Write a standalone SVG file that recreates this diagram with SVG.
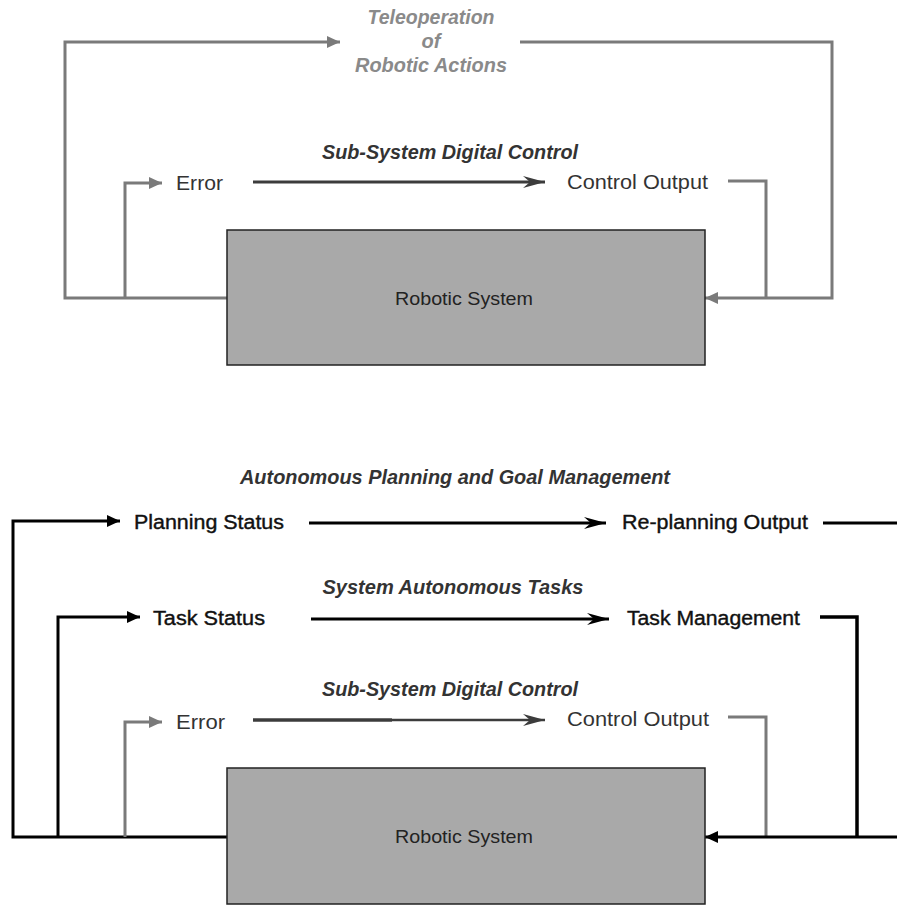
<svg xmlns="http://www.w3.org/2000/svg" width="897" height="905" viewBox="0 0 897 905">
<style>
.lbl{font-family:"Liberation Sans",Arial,sans-serif;font-size:20px;fill:#333}
.lblb{font-family:"Liberation Sans",Arial,sans-serif;font-size:20px;fill:#111;stroke:#111;stroke-width:0.4}
.ttl{font-family:"Liberation Sans",Arial,sans-serif;font-size:20px;font-weight:bold;font-style:italic;fill:#333}
.tele{font-family:"Liberation Sans",Arial,sans-serif;font-size:20px;font-weight:bold;font-style:italic;fill:#8a8a8a}
.box{fill:#a9a9a9;stroke:#222;stroke-width:1.5}
.boxt{font-family:"Liberation Sans",Arial,sans-serif;font-size:19px;fill:#222}
.g{fill:none;stroke:#7a7a7a;stroke-width:3}
.d{fill:none;stroke:#3c3c3c;stroke-width:3}
.k{fill:none;stroke:#000;stroke-width:3}
</style>
<defs>
<marker id="triG" markerUnits="userSpaceOnUse" markerWidth="14" markerHeight="12" refX="13" refY="6" orient="auto"><path d="M0,0 L13,6 L0,12 Z" fill="#7a7a7a"/></marker>
<marker id="triK" markerUnits="userSpaceOnUse" markerWidth="14" markerHeight="12" refX="13" refY="6" orient="auto"><path d="M0,0 L13,6 L0,12 Z" fill="#000"/></marker>
<marker id="dartD" markerUnits="userSpaceOnUse" markerWidth="24" markerHeight="12" refX="22" refY="6" orient="auto"><path d="M0,0 L22,6 L0,12 L7,6 Z" fill="#3c3c3c"/></marker>
<marker id="dartK" markerUnits="userSpaceOnUse" markerWidth="24" markerHeight="12" refX="22" refY="6" orient="auto"><path d="M0,0 L22,6 L0,12 L7,6 Z" fill="#000"/></marker>
</defs>

<g id="connectors">
  <path class="g" d="M227,298 L65,298 L65,42 L340,42" marker-end="url(#triG)"/>
  <path class="g" d="M520,42 L832,42 L832,298 L705,298" marker-end="url(#triG)"/>
  <path class="g" d="M125,298 L125,183 L162,183" marker-end="url(#triG)"/>
  <path class="d" d="M253,182 L545,182" marker-end="url(#dartD)"/>
  <path class="g" d="M728,181 L766,181 L766,298"/>

  <path class="k" d="M227,837 L13,837 L13,521 L120,521" marker-end="url(#triK)"/>
  <path class="k" d="M58,837 L58,617 L140,617" marker-end="url(#triK)"/>
  <path class="g" d="M125,837 L125,722 L162,722" marker-end="url(#triG)"/>
  <path class="k" d="M309,523 L606,523" marker-end="url(#dartK)"/>
  <path class="k" d="M823,523 L897,523"/>
  <path class="k" d="M311,619 L609,619" marker-end="url(#dartK)"/>
  <path class="k" d="M820,617 L857,617 L857,837" style="stroke-width:3.5"/>
  <path class="d" d="M253,720 L392,720" style="stroke-width:3.5"/>
  <path class="d" d="M392,720 L545,720" style="stroke-width:2.5" marker-end="url(#dartD)"/>
  <path class="g" d="M728,717 L766,717 L766,837"/>
  <path class="k" d="M897,837 L705,837" marker-end="url(#triK)"/>
</g>

<g id="teleoperation">
  <text class="tele" x="431" y="24" text-anchor="middle" textLength="127" lengthAdjust="spacingAndGlyphs">Teleoperation</text>
  <text class="tele" x="431" y="48" text-anchor="middle">of</text>
  <text class="tele" x="431" y="72" text-anchor="middle" textLength="152" lengthAdjust="spacingAndGlyphs">Robotic Actions</text>
</g>
<g id="title-top">
  <text class="ttl" x="450" y="159" text-anchor="middle" textLength="256" lengthAdjust="spacingAndGlyphs">Sub-System Digital Control</text>
</g>
<g id="error-top"><text class="lbl" x="176" y="190" textLength="47" lengthAdjust="spacingAndGlyphs">Error</text></g>
<g id="control-output-top"><text class="lbl" x="567" y="189" textLength="141" lengthAdjust="spacingAndGlyphs">Control Output</text></g>
<g id="robotic-system-top">
  <rect class="box" x="227" y="230" width="478" height="135"/>
  <text class="boxt" x="464" y="305" text-anchor="middle" textLength="138" lengthAdjust="spacingAndGlyphs">Robotic System</text>
</g>

<g id="title-planning"><text class="ttl" x="455" y="484" text-anchor="middle" textLength="430" lengthAdjust="spacingAndGlyphs">Autonomous Planning and Goal Management</text></g>
<g id="planning-status"><text class="lblb" x="134" y="529" textLength="150" lengthAdjust="spacingAndGlyphs">Planning Status</text></g>
<g id="replanning-output"><text class="lblb" x="622" y="529" textLength="186" lengthAdjust="spacingAndGlyphs">Re-planning Output</text></g>
<g id="title-tasks"><text class="ttl" x="453" y="594" text-anchor="middle" textLength="261" lengthAdjust="spacingAndGlyphs">System Autonomous Tasks</text></g>
<g id="task-status"><text class="lblb" x="153" y="625" textLength="112" lengthAdjust="spacingAndGlyphs">Task Status</text></g>
<g id="task-management"><text class="lblb" x="627" y="625" textLength="173" lengthAdjust="spacingAndGlyphs">Task Management</text></g>
<g id="title-bottom"><text class="ttl" x="450" y="696" text-anchor="middle" textLength="256" lengthAdjust="spacingAndGlyphs">Sub-System Digital Control</text></g>
<g id="error-bottom"><text class="lbl" x="176" y="729" textLength="49" lengthAdjust="spacingAndGlyphs">Error</text></g>
<g id="control-output-bottom"><text class="lbl" x="567" y="726" textLength="142" lengthAdjust="spacingAndGlyphs">Control Output</text></g>
<g id="robotic-system-bottom">
  <rect class="box" x="227" y="768" width="478" height="136"/>
  <text class="boxt" x="464" y="843" text-anchor="middle" textLength="138" lengthAdjust="spacingAndGlyphs">Robotic System</text>
</g>
</svg>
